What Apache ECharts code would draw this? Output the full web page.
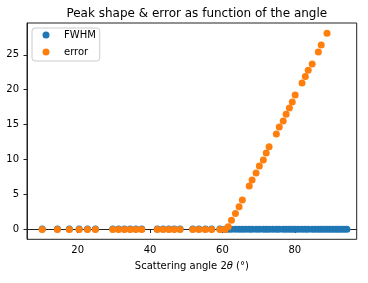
<!DOCTYPE html>
<html>
<head>
<meta charset="utf-8">
<script src="https://cdn.jsdelivr.net/npm/echarts@6/dist/echarts.min.js"></script>
<style>html,body{margin:0;padding:0;background:#fff}#c{width:368px;height:283px}</style>
</head>
<body>
<div id="c"></div>
<script>
const angles = [10.2, 14.4, 17.7, 20.4, 22.7, 24.9, 29.7, 31.3, 32.9, 34.5, 36.1, 37.7, 42.0, 43.6, 45.2, 46.7, 48.3, 51.8, 53.5, 55.3, 57.0, 59.3, 60.7, 61.6, 62.5, 63.6, 64.6, 65.5, 66.4, 67.4, 68.2, 69.3, 70.2, 71.3, 72.1, 72.9, 73.9, 74.9, 75.7, 76.8, 77.6, 78.5, 79.3, 80.1, 81.0, 82.0, 82.9, 83.7, 84.8, 85.6, 86.5, 87.3, 88.1, 88.9, 89.7, 90.5, 91.3, 92.0, 92.8, 93.6, 94.4];
const fwhm = [0.08, 0.08, 0.08, 0.08, 0.08, 0.08, 0.08, 0.08, 0.08, 0.08, 0.08, 0.08, 0.08, 0.08, 0.08, 0.08, 0.08, 0.08, 0.08, 0.08, 0.08, 0.08, 0.05, 0.05, 0.05, 0.05, 0.05, 0.05, 0.05, 0.05, 0.05, 0.05, 0.05, 0.05, 0.05, 0.05, 0.05, 0.05, 0.05, 0.05, 0.05, 0.05, 0.05, 0.05, 0.05, 0.05, 0.05, 0.05, 0.05, 0.05, 0.05, 0.05, 0.05, 0.05, 0.05, 0.05, 0.05, 0.05, 0.05, 0.05, 0.05];
const errorVals = [0, 0, 0, 0, 0, 0, 0, 0, 0, 0, 0, 0, 0, 0, 0, 0, 0, 0, 0, 0, 0, 0, 0, 0.4, 1.33, 2.29, 3.24, 4.24, null, 6.24, 7.1, 8.1, 9.1, 9.96, 10.96, 11.86, null, 13.67, 14.67, 15.53, 16.5, 17.4, 18.24, 19.24, null, 20.96, 21.9, 22.8, 23.67, null, 25.4, 26.4, null, 28.1, null, null, null, null, null, null, null];
const xTicks = [20, 40, 60, 80];
const yTicks = [0, 5, 10, 15, 20, 25];
const seriesNames = ['FWHM', 'error'];

const font = 'DejaVu Sans';
const chart = echarts.init(document.getElementById('c'), null, {renderer: 'canvas'});
const pairs = vals => angles.map((a, i) => vals[i] == null ? null : [a, vals[i]]).filter(p => p);
chart.setOption({
  animation: false,
  backgroundColor: '#fff',
  title: {
    text: 'Peak shape & error as function of the angle',
    left: 191.8, top: 3, textAlign: 'center',
    textStyle: {fontFamily: font, fontSize: 12, fontWeight: 'normal', color: '#000'}
  },
  legend: {
    orient: 'vertical', left: 32, top: 28,
    padding: [1, 4, 3, 10.5],
    itemWidth: 7, itemHeight: 7, itemGap: 5,
    icon: 'circle',
    backgroundColor: 'rgba(255,255,255,0.8)',
    borderColor: '#ccc', borderWidth: 1, borderRadius: 3,
    textStyle: {fontFamily: font, fontSize: 10, color: '#000', lineHeight: 12, padding: [0, 0, 0, 9.5]},
    data: seriesNames
  },
  grid: {left: 27, top: 23, width: 329.7, height: 216.3, show: true, borderColor: '#222', borderWidth: 1, containLabel: false},
  xAxis: {
    type: 'value', min: 6.0, max: 97.1,
    name: 'Scattering angle 2{it|θ} (°)', nameLocation: 'middle', nameGap: 22,
    nameTextStyle: {fontFamily: font, fontSize: 10, color: '#000',
      rich: {it: {fontFamily: font, fontSize: 10, fontStyle: 'italic', color: '#000'}}},
    axisLine: {show: true, lineStyle: {color: '#222', width: 1}},
    axisTick: {show: true, length: 3.5, inside: false, customValues: xTicks, lineStyle: {color: '#222'}},
    axisLabel: {customValues: xTicks, margin: 6, fontFamily: font, fontSize: 10, color: '#000'},
    splitLine: {show: false}
  },
  yAxis: {
    type: 'value', min: -1.4, max: 29.55,
    axisLine: {show: true, lineStyle: {color: '#222', width: 1}},
    axisTick: {show: true, length: 3.5, inside: false, customValues: yTicks, lineStyle: {color: '#222'}},
    axisLabel: {customValues: yTicks, margin: 8, fontFamily: font, fontSize: 10, color: '#000'},
    splitLine: {show: false}
  },
  series: [
    {name: seriesNames[0], type: 'scatter', symbol: 'circle', symbolSize: 7,
     itemStyle: {color: '#1f77b4', opacity: 1}, data: pairs(fwhm), z: 2},
    {name: seriesNames[1], type: 'scatter', symbol: 'circle', symbolSize: 7,
     itemStyle: {color: '#ff7f0e', opacity: 1}, data: pairs(errorVals), z: 3}
  ]
});
</script>
</body>
</html>
